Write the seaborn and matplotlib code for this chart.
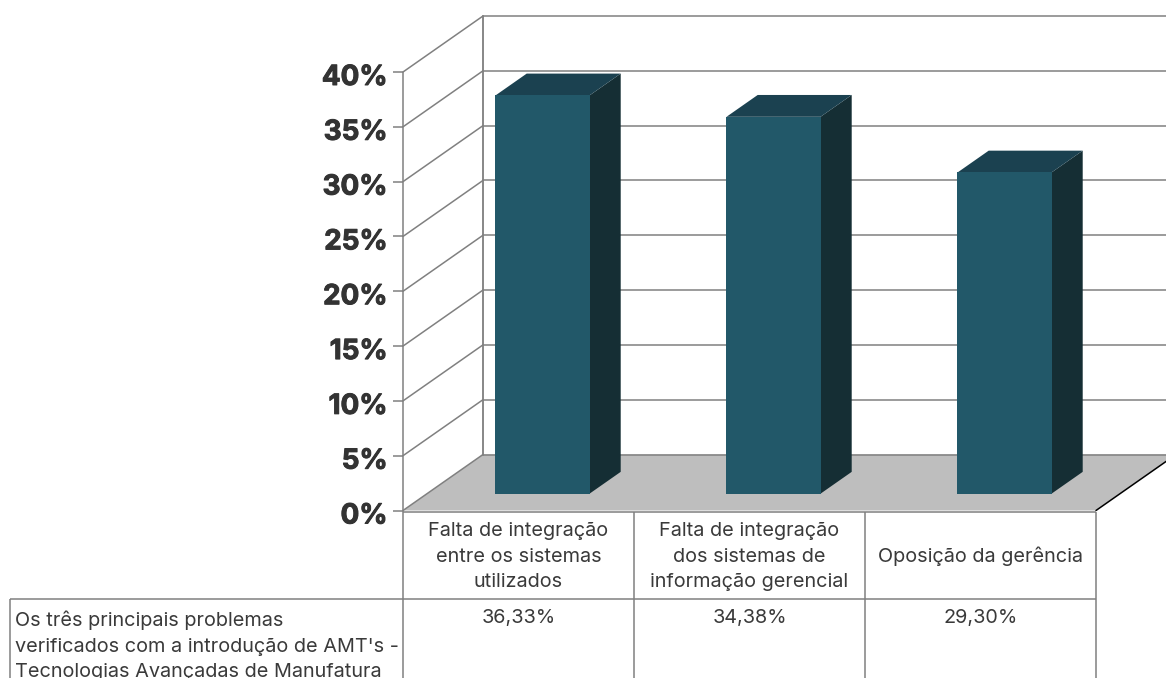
import matplotlib
matplotlib.use("Agg")
import matplotlib.pyplot as plt
import seaborn as sns
import pandas as pd
from matplotlib.patches import Polygon, Rectangle
from matplotlib.lines import Line2D
from matplotlib.transforms import Affine2D, IdentityTransform
import matplotlib.patheffects as pe

# ---- data ----
categories = ["Falta de integração\nentre os sistemas\nutilizados",
              "Falta de integração\ndos sistemas de\ninformação gerencial",
              "Oposição da gerência"]
values = [36.33, 34.38, 29.30]
y_ticks = [0, 5, 10, 15, 20, 25, 30, 35, 40]
series_label = "Os três principais problemas\nverificados com a introdução de AMT's -\nTecnologias Avançadas de Manufatura"

# ---- style ----
W, H = 1166, 678
GRID = "#808080"
TEXT = "#3a3a3a"
FLOOR = "#bebebe"
FRONT, TOP, SIDE = "#225869", "#1b4150", "#152e34"
DEPTH_X, DEPTH_Y = 80, 56      # pixels of the whole chart depth
BAR_D0, BAR_D1 = 0.30, 0.69    # bar position inside the depth
LW = 1.1
FS = 14.3

sns.set_theme(style="white")
plt.rcParams["font.family"] = ["Inter", "DejaVu Sans"]

fig = plt.figure(figsize=(W / 100, H / 100), dpi=100, facecolor="white")
ax = fig.add_axes([403 / W, (H - 510.5) / H, (1096 - 403) / W, 438.5 / H])
ax.patch.set_alpha(0)

df = pd.DataFrame({"cat": categories, "val": values})
sns.barplot(data=df, x="cat", y="val", color=FRONT, saturation=1, width=0.407, ax=ax, zorder=5,
            linewidth=0, edgecolor="none")
ax.set_xlim(-0.5, 2.5)
ax.set_ylim(0, 40)
ax.set_xlabel("")
ax.set_ylabel("")
ax.set_xticks([])
for s in ax.spines.values():
    s.set_visible(False)

ax.set_yticks(y_ticks)
ax.set_yticklabels([f"{t}%" for t in y_ticks], fontsize=20, fontweight="bold", color="#333333")
ax.tick_params(axis="y", left=True, length=7.2, width=LW, color=GRID, pad=4.0)
shift = Affine2D().translate(0, -3)
for lab in ax.get_yticklabels():
    lab.set_transform(lab.get_transform() + shift)
    lab.set_path_effects([pe.withStroke(linewidth=0.7, foreground="#333333")])


def depth(x, y, d):
    """display position of data point (x, y) at relative chart depth d"""
    px_, py_ = ax.transData.transform((x, y))
    return (px_ + DEPTH_X * d, py_ + DEPTH_Y * d)


def px(x, y):
    """display position from top-left image pixel coordinates"""
    return (x, H - y)


def line(p, q, color=GRID, lw=LW, z=2):
    fig.add_artist(Line2D([p[0], q[0]], [p[1], q[1]], color=color, lw=lw, zorder=z,
                          transform=IdentityTransform(), solid_capstyle="butt"))


def poly(pts, color, z):
    ax.add_patch(Polygon(pts, closed=True, facecolor=color, edgecolor="none", zorder=z,
                         transform=IdentityTransform(), clip_on=False))


def wall(p, q, color=GRID, lw=LW, z=2):
    ax.add_line(Line2D(*zip(p, q), color=color, lw=lw, zorder=z,
                       transform=IdentityTransform(), clip_on=False))


bars = [b for b in ax.patches if isinstance(b, Rectangle)]

# floor
poly([depth(-0.5, 0, 0), depth(2.5, 0, 0), depth(2.5, 0, 1), depth(-0.5, 0, 1)], FLOOR, 1)

# walls
for t in y_ticks:
    wall(depth(-0.5, t, 0), depth(-0.5, t, 1))
    wall(depth(-0.5, t, 1), depth(2.6, t, 1))
wall(depth(-0.5, 0, 1), depth(-0.5, 40, 1), lw=LW * 1.2)
wall(depth(2.5, 0, 0), depth(2.5, 0, 1), color="black", z=3)

# bars: front faces come from seaborn, shifted into the depth; side and top faces follow them
front_shift = Affine2D().translate(DEPTH_X * BAR_D0, DEPTH_Y * BAR_D0)
for bar in bars:
    x0, w, h = bar.get_x(), bar.get_width(), bar.get_height()
    x1 = x0 + w
    bar.set_transform(ax.transData + front_shift)
    bar.set_clip_on(False)
    poly([depth(x1, 0, BAR_D0), depth(x1, 0, BAR_D1), depth(x1, h, BAR_D1), depth(x1, h, BAR_D0)], SIDE, 4)
    poly([depth(x0, h, BAR_D0), depth(x1, h, BAR_D0), depth(x1, h, BAR_D1), depth(x0, h, BAR_D1)], TOP, 4)

# data table
y_head, y_row, x_left = 511.5, 599, 10
line(px(403, y_head), px(1096, y_head), z=6)
line(px(x_left, y_row), px(1096, y_row), z=6)
line(px(x_left, y_row), px(x_left, H), z=6)
line(px(403, 72), px(403, H), z=6)
for i in range(1, 4):
    x = ax.transData.transform((i - 0.5, 0))[0]
    line((x, H - y_head), (x, 0), z=6)

for i, (c, v) in enumerate(zip(categories, values)):
    x = ax.transData.transform((i, 0))[0]
    fig.text(x / W, 1 - 556.5 / H, c, ha="center", va="center", fontsize=FS, color=TEXT, linespacing=1.55)
    fig.text(x / W, 1 - 618.5 / H, f"{v:.2f}".replace(".", ",") + "%", ha="center", va="center",
             fontsize=FS, color=TEXT)
fig.text(15 / W, 1 - 646 / H, series_label, ha="left", va="center", fontsize=FS, color=TEXT, linespacing=1.55)

fig.savefig("out.png", dpi=100, facecolor="white")
